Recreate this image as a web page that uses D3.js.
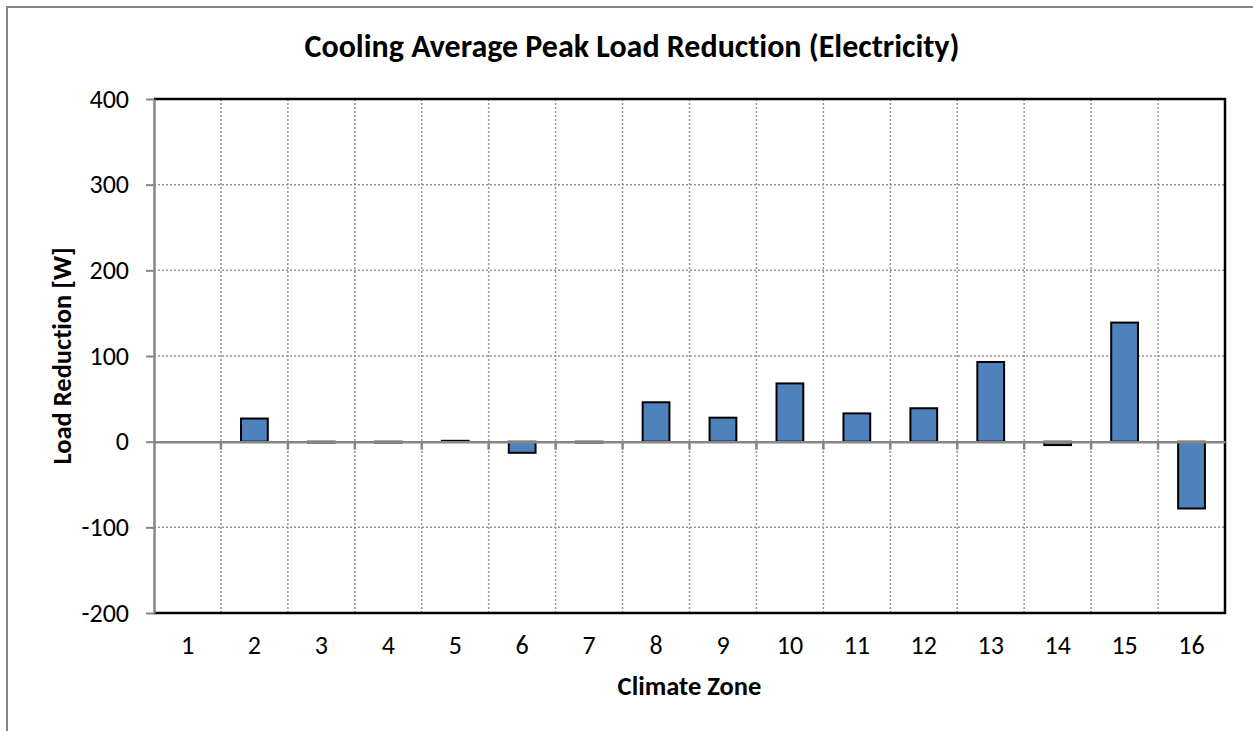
<!DOCTYPE html>
<html>
<head>
<meta charset="utf-8">
<script src="https://cdn.jsdelivr.net/npm/d3@7"></script>
<style>
  body { margin: 0; background: #fff; }
  text { font-family: Carlito, Calibri, Lato, sans-serif; fill: #000; font-variant-ligatures: none; }
  .grid line { stroke: #959595; stroke-width: 1.5; stroke-dasharray: 2,2; }
  .axis text { font-size: 26px; }
</style>
</head>
<body>
<div id="chart"></div>
<script>
// climate zones and average peak load reduction [W]
let zones = ['1', '2', '3', '4', '5', '6', '7', '8', '9', '10', '11', '12', '13', '14', '15', '16']
let reduction = [0, 27, -1, -1, 1, -13, -1, 46, 28, 68, 33, 39, 93, -4, 139, -78]
let yTicks = [-200, -100, 0, 100, 200, 300, 400]

let margin = { top: 99, left: 154, right: 28, bottom: 118 }
let width = 1253 - margin.left - margin.right
let height = 731 - margin.top - margin.bottom

let svgRoot = d3.select('#chart')
  .append('svg')
  .attr('width', 1253)
  .attr('height', 731)

// outer chart border (only top and left show in the crop)
svgRoot.append('rect')
  .attr('x', 7)
  .attr('y', 7)
  .attr('width', 1260)
  .attr('height', 740)
  .attr('fill', 'none')
  .attr('stroke', '#868686')
  .attr('stroke-width', 2)

svgRoot.append('text')
  .attr('x', 632)
  .attr('y', 57)
  .attr('text-anchor', 'middle')
  .attr('font-size', 32)
  .attr('font-weight', 'bold')
  .text('Cooling Average Peak Load Reduction (Electricity)')

let svg = svgRoot.append('g')
  .attr('transform', 'translate(' + margin.left + ',' + margin.top + ')')

let xPositionScale = d3.scaleBand()
  .domain(zones)
  .range([0, width])
  .paddingInner(0.6)
  .paddingOuter(0.3)

let yPositionScale = d3.scaleLinear().domain([-200, 400]).range([height, 0])

let step = xPositionScale.step()
let boundary = d => xPositionScale(d) - step * 0.3

// gridlines
svg.append('g')
  .attr('class', 'grid')
  .selectAll('line.h')
  .data(yTicks.filter(d => d !== 0 && d !== 400 && d !== -200))
  .enter()
  .append('line')
  .attr('x1', 0)
  .attr('x2', width)
  .attr('y1', d => yPositionScale(d))
  .attr('y2', d => yPositionScale(d))

svg.select('.grid')
  .selectAll('line.v')
  .data(zones.slice(1))
  .enter()
  .append('line')
  .attr('x1', boundary)
  .attr('x2', boundary)
  .attr('y1', 0)
  .attr('y2', height)

// bars
svg.selectAll('.bar')
  .data(zones)
  .enter()
  .append('rect')
  .attr('class', 'bar')
  .attr('x', d => xPositionScale(d))
  .attr('width', xPositionScale.bandwidth())
  .attr('y', (d, i) => yPositionScale(Math.max(0, reduction[i])))
  .attr('height', (d, i) => Math.abs(yPositionScale(reduction[i]) - yPositionScale(0)))
  .attr('fill', '#4f81bd')
  .attr('stroke', '#000')
  .attr('stroke-width', 2)

// plot border: black top, right, bottom
svg.append('path')
  .attr('d', 'M0,0H' + width + 'V' + height + 'H0')
  .attr('fill', 'none')
  .attr('stroke', '#000')
  .attr('stroke-width', 2.5)

// zero line with category ticks
let zeroAxis = d3.axisBottom(xPositionScale).tickSize(0).tickFormat('')
svg.append('g')
  .attr('transform', 'translate(0,' + yPositionScale(0) + ')')
  .call(zeroAxis)
  .call(g => g.select('.domain').attr('stroke', '#868686').attr('stroke-width', 2.5))

svg.append('g')
  .selectAll('line')
  .data(zones.slice(1))
  .enter()
  .append('line')
  .attr('x1', boundary)
  .attr('x2', boundary)
  .attr('y1', yPositionScale(0))
  .attr('y2', yPositionScale(0) + 8)
  .attr('stroke', '#868686')
  .attr('stroke-width', 2.5)

// x labels at the bottom
let xAxis = d3.axisBottom(xPositionScale).tickSize(0).tickPadding(23)
svg.append('g')
  .attr('class', 'axis x-axis')
  .attr('transform', 'translate(0,' + height + ')')
  .call(xAxis)
  .call(g => g.select('.domain').remove())

let yAxis = d3.axisLeft(yPositionScale)
  .tickValues(yTicks)
  .tickSize(8)
  .tickSizeOuter(0)
  .tickPadding(17)
  .tickFormat(d => String(d))
svg.append('g')
  .attr('class', 'axis y-axis')
  .call(yAxis)
  .call(g => g.select('.domain').attr('stroke', '#868686').attr('stroke-width', 2.5))
  .call(g => g.selectAll('.tick line').attr('stroke', '#868686').attr('stroke-width', 2))

svg.append('text')
  .attr('x', width / 2)
  .attr('y', height + 82)
  .attr('text-anchor', 'middle')
  .attr('font-size', 26.5)
  .attr('font-weight', 'bold')
  .text('Climate Zone')

svg.append('text')
  .attr('transform', 'translate(' + (-83) + ',' + (height / 2) + ') rotate(-90)')
  .attr('text-anchor', 'middle')
  .attr('font-size', 26.5)
  .attr('font-weight', 'bold')
  .text('Load Reduction [W]')
</script>
</body>
</html>
